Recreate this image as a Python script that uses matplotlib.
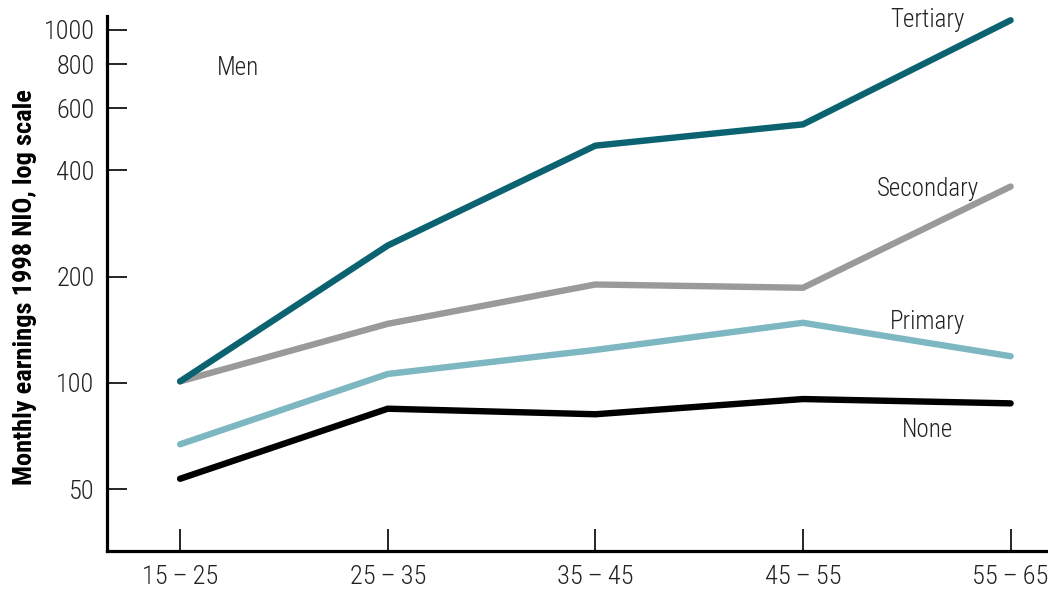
import numpy as np
import matplotlib
matplotlib.use("Agg")
import matplotlib.pyplot as plt
from matplotlib.ticker import FixedLocator, NullLocator

plt.rcParams["font.family"] = ["Roboto Condensed", "DejaVu Sans"]

age_groups = ["15\u2009–\u200925", "25\u2009–\u200935", "35\u2009–\u200945",
              "45\u2009–\u200955", "55\u2009–\u200965"]

tertiary = [101, 245, 470, 540, 1065]
secondary = [101, 147, 190, 186, 360]
primary = [67, 106, 124, 148, 119]
none = [53.5, 84.5, 81.5, 90, 87.5]

y_ticks = [50, 100, 200, 400, 600, 800, 1000]

series = [
    ("None", none, "#000000"),
    ("Primary", primary, "#7db7c1"),
    ("Secondary", secondary, "#9a9a9a"),
    ("Tertiary", tertiary, "#0b6270"),
]

fig = plt.figure(figsize=(10.48, 5.93), dpi=100)
ax = fig.add_axes([107 / 1048, 42 / 593, 941 / 1048, 535 / 593])

x = np.arange(len(age_groups))
for name, vals, color in series:
    ax.plot(x, vals, color=color, lw=4.6, solid_capstyle="round",
            solid_joinstyle="miter", zorder=3)

# series labels near the right end
label_pos = {"Tertiary": 1065, "Secondary": 354, "Primary": 149, "None": 73.6}
for name, vals, color in series:
    ax.text(3.6, label_pos[name], name, ha="center", va="center",
            fontsize=18, fontweight="light", color="#222222")
ax.text(0.28, 780, "Men", ha="center", va="center", fontsize=18,
        fontweight="light", color="#222222")

ax.set_yscale("log")
ax.set_xlim(-0.352, 4.18)
ax.set_ylim(33.4, 1095)
ax.yaxis.set_major_locator(FixedLocator(y_ticks))
ax.yaxis.set_minor_locator(NullLocator())
ax.set_yticklabels([str(t) for t in y_ticks], fontweight="light")
ax.set_xticks(x)
ax.set_xticklabels(age_groups, fontweight="light")

ax.spines["top"].set_visible(False)
ax.spines["right"].set_visible(False)
ax.spines["left"].set_linewidth(2.3)
ax.spines["bottom"].set_linewidth(2.3)
ax.tick_params(axis="y", direction="in", length=14.5, width=1.2, pad=9,
               labelsize=19, labelcolor="#222222")
ax.tick_params(axis="x", direction="in", length=16, width=1.2, pad=10,
               labelsize=19, labelcolor="#222222")

ax.set_ylabel("Monthly earnings 1998 NIO, log scale", fontsize=19,
              fontweight="bold", va="center")
ax.yaxis.set_label_coords(-0.0871, 0.4925)

fig.savefig("out.png", dpi=100)
